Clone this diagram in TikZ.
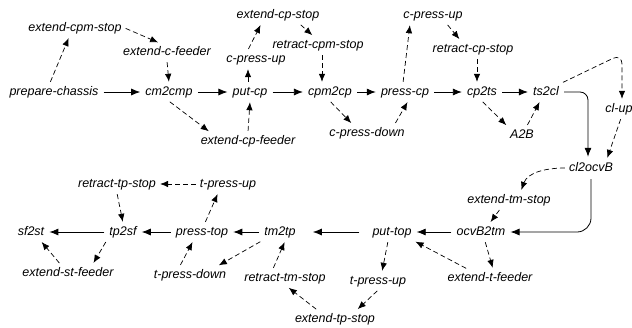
\documentclass[tikz,border=0pt]{standalone}
\usepackage{fontspec}
\setmainfont{Liberation Sans}
\usetikzlibrary{arrows.meta}

\begin{document}
\begin{tikzpicture}[x=1pt,y=-1pt,
	ev/.style={font=\fontsize{12.5}{15}\selectfont\itshape, inner sep=3pt, text height=9pt, text depth=3pt},
	dep/.style={-{Latex[length=9pt,width=7pt]}, line width=0.8pt, shorten <=2pt, shorten >=2pt},
	opt/.style={-{Latex[length=8pt,width=6.5pt]}, line width=0.7pt, dash pattern=on 5pt off 3pt, shorten <=1pt, shorten >=1pt}]
	\useasboundingbox (0,0) rectangle (632,327);
	% upper chain
	\node[ev] (pc) at (54,92) {prepare-chassis};
	\node[ev] (ecs) at (75,28) {extend-cpm-stop};
	\node[ev] (ecf) at (167,52) {extend-c-feeder};
	\node[ev] (cmcmp) at (169,92) {cm2cmp};
	\node[ev] (ecpf) at (248,141) {extend-cp-feeder};
	\node[ev] (putcp) at (250,92) {put-cp};
	\node[ev] (cpuA) at (256,59) {c-press-up};
	\node[ev] (ecps) at (278,15) {extend-cp-stop};
	\node[ev] (rcms) at (318,45) {retract-cpm-stop};
	\node[ev] (cpmcp) at (330,92) {cpm2cp};
	\node[ev] (cpd) at (367,133) {c-press-down};
	\node[ev] (presscp) at (405,92) {press-cp};
	\node[ev] (cpuB) at (433,15) {c-press-up};
	\node[ev] (rcps) at (473,49) {retract-cp-stop};
	\node[ev] (cpts) at (482,92) {cp2ts};
	\node[ev] (atob) at (522,135) {A2B};
	\node[ev] (tscl) at (546,92) {ts2cl};
	\node[ev] (clup) at (619,109) {cl-up};
	\node[ev] (clocvb) at (591,168) {cl2ocvB};
	\coordinate (bend) at (622,54);
	% lower chain
	\node[ev] (etms) at (509,200) {extend-tm-stop};
	\node[ev] (ocvtm) at (481,232) {ocvB2tm};
	\node[ev] (etf) at (490,278) {extend-t-feeder};
	\node[ev] (puttop) at (392,232) {put-top};
	\node[ev] (tpuA) at (378,281) {t-press-up};
	\node[ev] (etps) at (335,319) {extend-tp-stop};
	\node[ev] (rtms) at (285,278) {retract-tm-stop};
	\node[ev] (tmtp) at (280,232) {tm2tp};
	\node[ev] (tpd) at (190,275) {t-press-down};
	\node[ev] (presstop) at (202,232) {press-top};
	\node[ev] (tpuB) at (228,184) {t-press-up};
	\node[ev] (rtps) at (117,184) {retract-tp-stop};
	\node[ev] (tpsf) at (123,232) {tp2sf};
	\node[ev] (sfst) at (31,232) {sf2st};
	\node[ev] (esf) at (68,273) {extend-st-feeder};
	% solid
	\foreach \a/\b in {pc/cmcmp, cmcmp/putcp, putcp/cpmcp, cpmcp/presscp, presscp/cpts, cpts/tscl, ocvtm/puttop, tmtp/presstop, presstop/tpsf, tpsf/sfst}
	\draw[dep] (\a) -- (\b);
	\draw[dep, shorten <=10pt, shorten >=14pt] (puttop) -- (tmtp);
	\draw[dep, rounded corners=8pt] (tscl.east) -| ([xshift=-3pt]clocvb.north);
	\draw[dep, rounded corners=14pt] (clocvb.south) |- (ocvtm.east);
	% dashed
	\draw[opt] ([xshift=-4pt]pc.north) -- ([xshift=-6pt]ecs.south);
	\draw[opt] (ecs.east) -- ([xshift=-8pt]ecf.north);
	\draw[opt] (ecf.south) -- (cmcmp.north);
	\draw[opt] (cmcmp.south) -- ([xshift=12pt]ecpf.north west);
	\draw[opt] (ecpf.north) -- (putcp.south);
	\draw[opt] ([xshift=-2pt]putcp.north) -- ([xshift=-8pt]cpuA.south);
	\draw[opt] ([xshift=-8pt]cpuA.north) -- ([xshift=-17pt]ecps.south);
	\draw[opt] ([xshift=22pt]ecps.south) -- ([xshift=-5pt]rcms.north);
	\draw[opt] ([xshift=4pt]rcms.south) -- ([xshift=-8pt]cpmcp.north);
	\draw[opt] (cpmcp.south) -- ([xshift=-15pt]cpd.north);
	\draw[opt] ([xshift=28pt]cpd.north) -- ([xshift=3pt]presscp.south);
	\draw[opt] ([xshift=-2pt]presscp.north) -- ([xshift=-23pt]cpuB.south);
	\draw[opt] ([xshift=14pt]cpuB.south) -- ([xshift=-13pt]rcps.north);
	\draw[opt] ([xshift=4pt]rcps.south) -- ([xshift=-5pt]cpts.north);
	\draw[opt] (cpts.south) -- (atob.north west);
	\draw[opt] ([xshift=5pt]atob.north) -- ([xshift=-6pt]tscl.south);
	\draw[opt, rounded corners=10pt] (tscl.north east) -- (bend) -- ([xshift=3pt]clup.north);
	\draw[opt] ([xshift=2pt]clup.south) -- ([xshift=16pt]clocvb.north);
	\draw[opt] (clocvb.west) to[out=180,in=70] ([xshift=12pt]etms.north);
	\draw[opt] ([xshift=-9pt]etms.south) -- ([xshift=9pt]ocvtm.north);
	\draw[opt] ([xshift=4pt]ocvtm.south) -- ([xshift=3pt]etf.north);
	\draw[opt] ([xshift=-23pt]etf.north) -- (puttop.south east);
	\draw[opt] ([xshift=-4pt]puttop.south) -- ([xshift=4pt]tpuA.north);
	\draw[opt] (tpuA.south) -- ([xshift=22pt]etps.north);
	\draw[opt] ([xshift=-18pt]etps.north) -- ([xshift=3pt]rtms.south);
	\draw[opt] ([xshift=-12pt]rtms.north) -- ([xshift=5pt]tmtp.south);
	\draw[opt] (tmtp.south west) -- ([xshift=28pt]tpd.north);
	\draw[opt] ([xshift=-10pt]tpd.north) -- ([xshift=-9pt]presstop.south);
	\draw[opt] ([xshift=3pt]presstop.north) -- ([xshift=-10pt]tpuB.south);
	\draw[opt] (tpuB.west) -- (rtps.east);
	\draw[opt] (rtps.south) -- (tpsf.north);
	\draw[opt] (tpsf.south west) -- ([xshift=25pt]esf.north);
	\draw[opt] ([xshift=-8pt]esf.north) -- ([xshift=10pt]sfst.south);
\end{tikzpicture}
\end{document}
